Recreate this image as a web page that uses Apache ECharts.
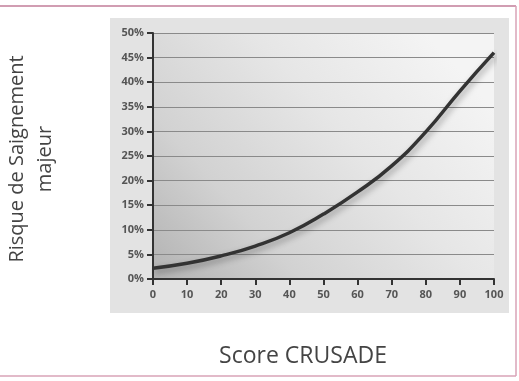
<!DOCTYPE html>
<html><head><meta charset="utf-8">
<script src="https://cdn.jsdelivr.net/npm/echarts@6/dist/echarts.min.js"></script>
<style>html,body{margin:0;padding:0;background:#fff}#c{width:519px;height:381px}</style>
</head><body><div id="c"></div>
<script>
var scores = [0, 10, 20, 30, 40, 50, 60, 70, 80, 90, 100];
var risk = [2.2, 3.2, 4.7, 6.7, 9.4, 13.2, 17.7, 23.0, 29.9, 38.2, 46.0];
var yTicks = [0, 5, 10, 15, 20, 25, 30, 35, 40, 45, 50];
var yTitle = 'Risque de Saignement\nmajeur';
var xTitle = 'Score CRUSADE';

var chart = echarts.init(document.getElementById('c'), null, {renderer: 'canvas'});
chart.setOption({
  animation: false,
  backgroundColor: '#fff',
  graphic: {
    elements: [
      {type: 'rect', z: -100, shape: {x: 110, y: 18, width: 399, height: 295}, style: {fill: '#e3e3e3'}},
      {type: 'line', z: 100, shape: {x1: 0, y1: 6, x2: 516, y2: 6}, style: {stroke: '#c27d98', lineWidth: 1.5}},
      {type: 'line', z: 100, shape: {x1: 516, y1: 6, x2: 516, y2: 376}, style: {stroke: '#d9a3b7', lineWidth: 1.5}},
      {type: 'line', z: 100, shape: {x1: 0, y1: 376, x2: 516, y2: 376}, style: {stroke: '#d9a3b7', lineWidth: 1.5}},
      {type: 'text', z: 100, x: 303, y: 356, style: {text: xTitle, font: '23px "Open Sans"', fill: '#444', align: 'center', verticalAlign: 'middle'}},
      {type: 'text', z: 100, x: 31, y: 159, rotation: Math.PI / 2, style: {text: yTitle, font: '20px "Open Sans"', lineHeight: 28, fill: '#444', align: 'center', verticalAlign: 'middle'}}
    ]
  },
  grid: {
    left: 153, right: 25, top: 33, bottom: 102,
    show: true, borderWidth: 0,
    backgroundColor: new echarts.graphic.LinearGradient(0, 1, 0.8, 0, [
      {offset: 0, color: '#b2b2b2'},
      {offset: 0.3, color: '#d2d2d2'},
      {offset: 0.65, color: '#e6e6e6'},
      {offset: 1, color: '#f4f4f4'}
    ])
  },
  xAxis: {
    type: 'value', min: 0, max: 100, interval: 10,
    axisLine: {show: true, lineStyle: {color: '#333', width: 2}},
    axisTick: {show: true, length: 6, lineStyle: {color: '#333', width: 2}},
    axisLabel: {color: '#555', fontSize: 11, fontWeight: 'bold', fontFamily: 'Open Sans', margin: 10},
    splitLine: {show: false}
  },
  yAxis: {
    type: 'value', min: 0, max: 50, interval: 5,
    axisLine: {show: true, lineStyle: {color: '#333', width: 2}},
    axisTick: {show: true, length: 6, lineStyle: {color: '#333', width: 2}},
    axisLabel: {color: '#555', fontSize: 11, fontWeight: 'bold', fontFamily: 'Open Sans', margin: 9, formatter: '{value}%'},
    splitLine: {show: true, lineStyle: {color: '#8a8a8a', width: 1}}
  },
  series: [{
    type: 'line', smooth: 0.5, symbol: 'none',
    data: scores.map(function (s, i) { return [s, risk[i]]; }),
    lineStyle: {color: '#333', width: 3.5, shadowColor: 'rgba(0,0,0,0.35)', shadowBlur: 6, shadowOffsetX: 2, shadowOffsetY: 3}
  }]
});
</script></body></html>
